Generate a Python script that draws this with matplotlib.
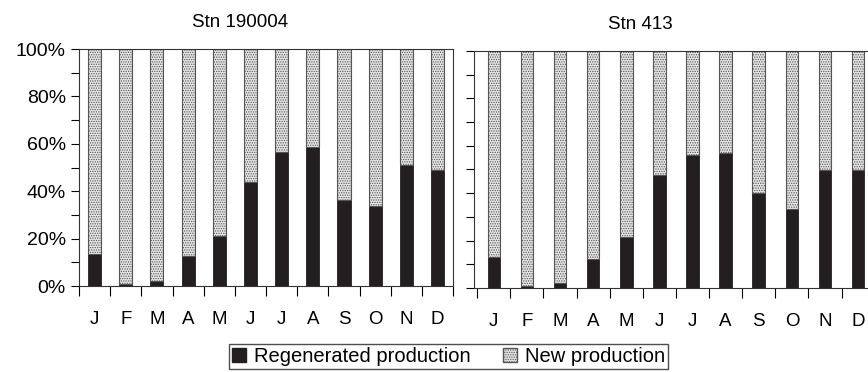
import matplotlib
matplotlib.use("Agg")
import matplotlib.pyplot as plt
from matplotlib.patches import Patch
from matplotlib.ticker import FixedLocator, NullFormatter

plt.rcParams['font.family'] = ['Liberation Sans', 'DejaVu Sans']
plt.rcParams['hatch.color'] = '#555555'
plt.rcParams['hatch.linewidth'] = 0.6

months = ['J', 'F', 'M', 'A', 'M', 'J', 'J', 'A', 'S', 'O', 'N', 'D']

# % of total production that is regenerated, per month
regen_190004 = [13.6, 1.0, 2.0, 12.6, 21.0, 43.8, 56.6, 58.7, 36.2, 34.0, 51.0, 49.0]
regen_413 = [13.0, 1.0, 2.0, 12.0, 21.7, 47.7, 56.0, 57.0, 40.0, 33.4, 49.8, 49.8]

new_190004 = [100 - v for v in regen_190004]
new_413 = [100 - v for v in regen_413]

pct_ticks = [0, 20, 40, 60, 80, 100]
pct_labels = [f'{v}%' for v in pct_ticks]

black = '#231f20'
dots = '#e4e4e4'

fig = plt.figure(figsize=(8.68, 3.72), dpi=100)
ax1 = fig.add_axes([0.091, 0.231, 0.431, 0.637])
ax2 = fig.add_axes([0.546, 0.226, 0.456, 0.637])


def draw(ax, regen, new, title, width, xlim):
    x = list(range(len(months)))
    ax.bar(x, regen, width=width, color=black, edgecolor=black, linewidth=0.6)
    ax.bar(x, new, width=width, bottom=regen, color=dots, edgecolor='#555555',
           linewidth=0.8, hatch='.......')
    ax.set_xlim(*xlim)
    ax.set_ylim(0, 100)
    ax.set_xticks(x)
    ax.set_xticklabels(months, fontsize=13.5)
    ax.xaxis.set_minor_locator(FixedLocator([i + 0.5 for i in range(-1, 12)]))
    ax.xaxis.set_minor_formatter(NullFormatter())
    ax.tick_params(axis='x', which='major', length=0, pad=18)
    ax.tick_params(axis='x', which='minor', length=7, width=0.8, direction='out')
    ax.set_yticks(pct_ticks)
    ax.set_yticks(range(10, 100, 20), minor=True)
    ax.tick_params(axis='y', which='both', length=6, width=0.8, direction='out')
    ax.set_title(title, fontsize=13.5, pad=16)
    for s in ax.spines.values():
        s.set_linewidth(0.8)
        s.set_color('#333333')


draw(ax1, regen_190004, new_190004, 'Stn 190004', 0.42, (-0.5, 11.5))
draw(ax2, regen_413, new_413, 'Stn 413', 0.38, (-0.6, 11.35))

ax1.set_yticklabels(pct_labels, fontsize=14)
ax2.set_yticklabels([])
ax1.title.set_position((0.43, 1.0))
ax2.title.set_position((0.42, 1.0))

handles = [
    Patch(facecolor=black, edgecolor=black, label='Regenerated production'),
    Patch(facecolor=dots, edgecolor='#555555', hatch='.......', label='New production'),
]
fig.legend(handles=handles, loc='upper center', bbox_to_anchor=(0.517, 0.075),
           borderaxespad=0, ncol=2, fontsize=14.5, frameon=True, fancybox=False,
           edgecolor='#222222', handlelength=0.7, handleheight=0.7,
           handletextpad=0.4, columnspacing=1.6, borderpad=0.15)

fig.savefig('out.png', dpi=100)
